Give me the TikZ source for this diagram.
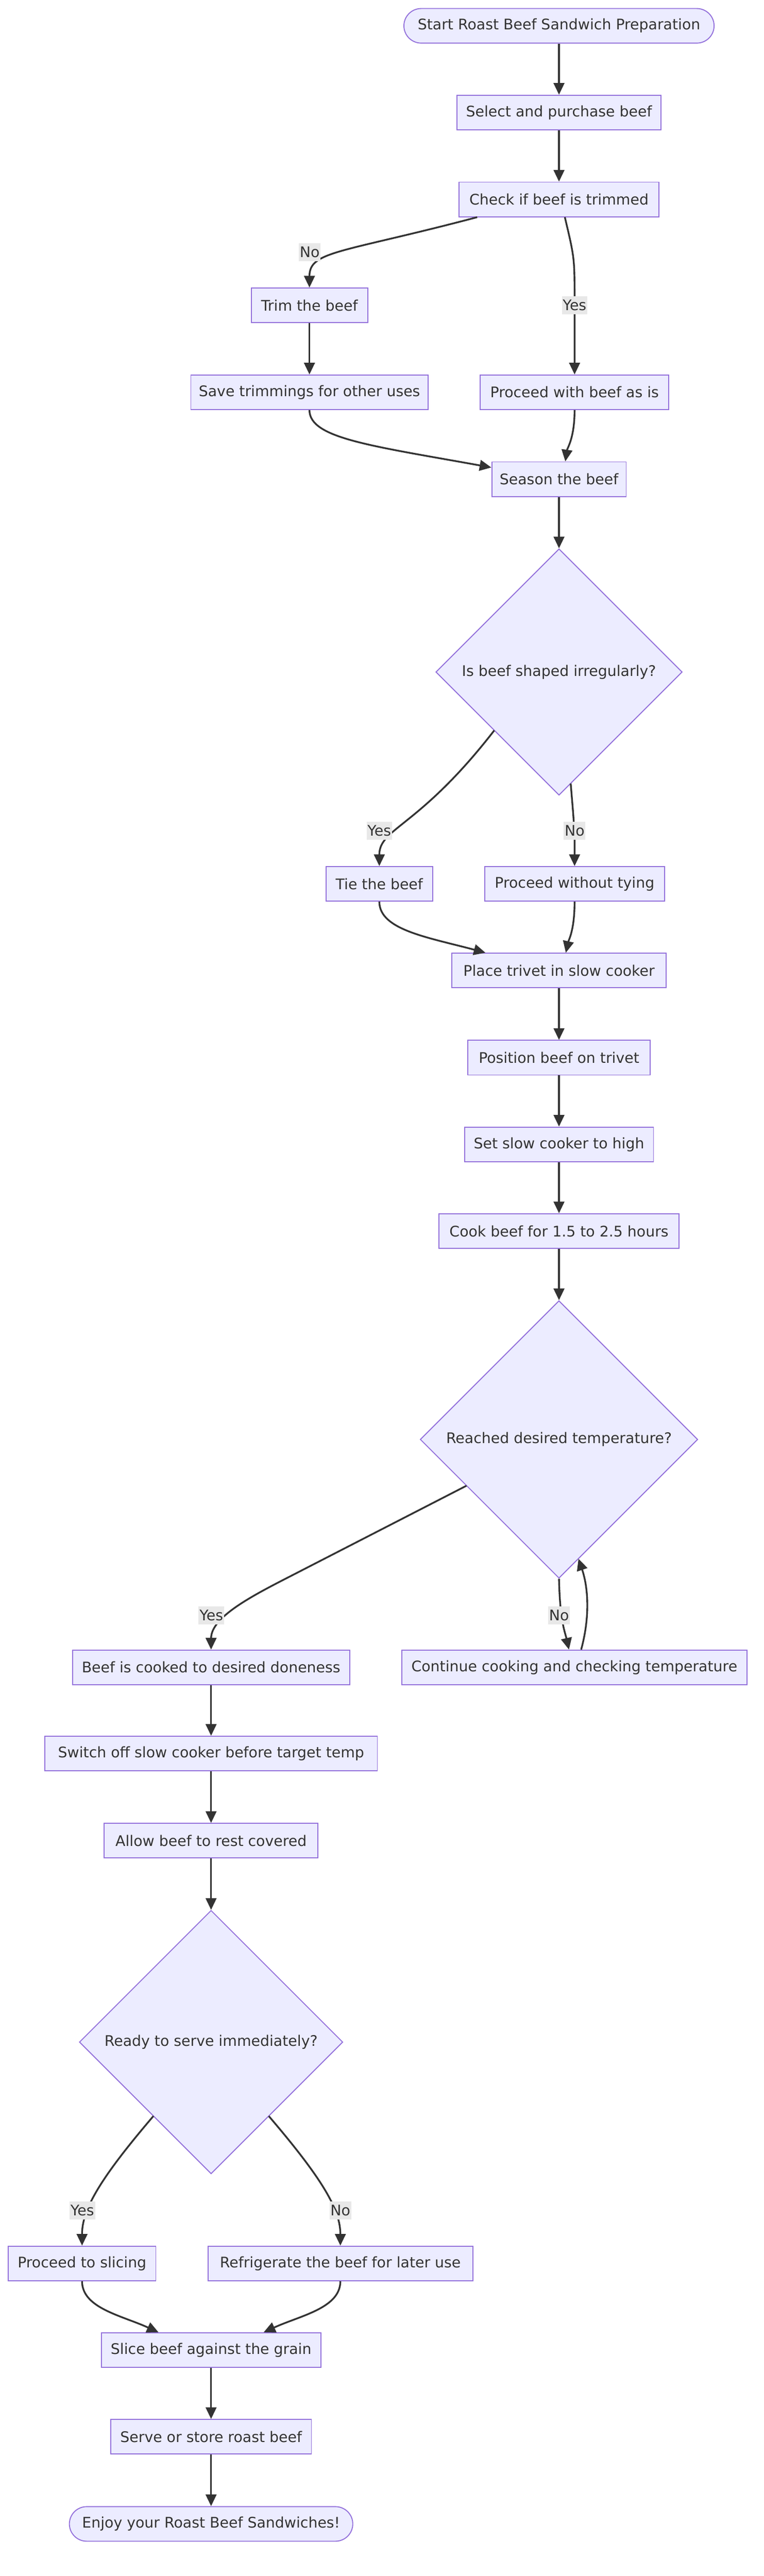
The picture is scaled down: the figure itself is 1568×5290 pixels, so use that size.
\documentclass[tikz,border=0pt]{standalone}
\usepackage{fontspec}
\setmainfont{DejaVu Sans}
\usetikzlibrary{shapes.geometric,arrows.meta,calc}
\definecolor{nfill}{HTML}{ECECFF}
\definecolor{nline}{HTML}{9370DB}
\definecolor{ink}{HTML}{333333}
\definecolor{lblbg}{HTML}{E8E8E8}
\begin{document}
\begin{tikzpicture}[x=0.5pt,y=-0.5pt,
 every node/.style={font=\fontsize{15pt}{18pt}\selectfont, text=ink},
 box/.style={draw=nline, fill=nfill, line width=1pt, minimum height=35.5pt, inner sep=0pt},
 term/.style={box, rounded corners=17.75pt},
 dec/.style={draw=nline, fill=nfill, line width=1pt, diamond, aspect=1, inner sep=0pt},
 conn/.style={draw=ink, line width=1.8pt, -{Triangle[length=12pt,width=11pt]}},
 lbl/.style={fill=lblbg, inner sep=1pt, minimum height=18.5pt}]
\fill[white] (0,0) rectangle (1568,5290);
\useasboundingbox (0,0) rectangle (1568,5290);

% nodes
\node[term, minimum width=318.5pt] (start) at (1148,53) {Start Roast Beef Sandwich Preparation};
\node[box, minimum width=209.5pt] (select) at (1148,231) {Select and purchase beef};
\node[box, minimum width=205.5pt] (check) at (1148,409.5) {Check if beef is trimmed};
\node[box, minimum width=119.5pt] (trim) at (635.5,627) {Trim the beef};
\node[box, minimum width=243.5pt] (save) at (635.5,805.5) {Save trimmings for other uses};
\node[box, minimum width=193.5pt] (pwith) at (1180,805.5) {Proceed with beef as is};
\node[box, minimum width=138pt] (season) at (1148,984) {Season the beef};
\node[dec, minimum width=253pt, minimum height=253pt] (d1) at (1148,1380) {Is beef shaped irregularly?};
\node[box, minimum width=109.5pt] (tie) at (779,1815) {Tie the beef};
\node[box, minimum width=184.5pt] (pwithout) at (1180,1815) {Proceed without tying};
\node[box, minimum width=220pt] (place) at (1148,1993) {Place trivet in slow cooker};
\node[box, minimum width=187pt] (position) at (1148,2172) {Position beef on trivet};
\node[box, minimum width=194pt] (setsc) at (1148,2350) {Set slow cooker to high};
\node[box, minimum width=246.5pt] (cook) at (1148,2528) {Cook beef for 1.5 to 2.5 hours};
\node[dec, minimum width=285pt, minimum height=285pt] (d2) at (1148,2956) {Reached desired temperature?};
\node[box, minimum width=284.5pt] (cooked) at (433.5,3424) {Beef is cooked to desired doneness};
\node[box, minimum width=354.5pt] (cont) at (1179.5,3424) {Continue cooking and checking temperature};
\node[box, minimum width=341.5pt] (switch) at (433.5,3601) {Switch off slow cooker before target temp};
\node[box, minimum width=219.5pt] (allow) at (433.5,3780) {Allow beef to rest covered};
\node[dec, minimum width=270.5pt, minimum height=270.5pt] (d3) at (433.5,4193.5) {Ready to serve immediately?};
\node[box, minimum width=151.5pt] (pslice) at (168.5,4648) {Proceed to slicing};
\node[box, minimum width=272pt] (refrig) at (699,4648) {Refrigerate the beef for later use};
\node[box, minimum width=225.5pt] (slice) at (433.5,4826) {Slice beef against the grain};
\node[box, minimum width=206pt] (serve) at (433.5,5004) {Serve or store roast beef};
\node[term, minimum width=291pt] (enjoy) at (433.5,5183) {Enjoy your Roast Beef Sandwiches!};

% connectors
\draw[conn] (start) -- (select);
\draw[conn] (select) -- (check);
\draw[conn] ($(check.south)+(-168,0)$) .. controls (700,520) and (635.5,515) .. (trim.north);
\draw[conn] ($(check.south)+(12,0)$) .. controls (1180,530) .. (1180,620) -- (pwith.north);
\draw[conn] (trim) -- (save);
\draw[conn] (save.south) .. controls (635.5,900) and (760,915) .. ($(season.west)+(0,-24)$);
\draw[conn] (pwith.south) .. controls (1180,900) and (1165,920) .. ($(season.north)+(13,0)$);
\draw[conn] (season) -- (d1);
\draw[conn] ($(d1)+(-133,120)$) .. controls (860,1700) and (779,1700) .. (tie.north);
\draw[conn] ($(d1)+(24,229)$) .. controls (1178,1680) .. (1180,1720) -- (pwithout.north);
\draw[conn] (tie.south) .. controls (779,1910) and (880,1925) .. ($(place.north)+(-151,0)$);
\draw[conn] (pwithout.south) .. controls (1180,1910) and (1168,1930) .. ($(place.north)+(14,0)$);
\draw[conn] (place) -- (position);
\draw[conn] (position) -- (setsc);
\draw[conn] (setsc) -- (cook);
\draw[conn] (cook) -- (d2);
\draw[conn] ($(d2)+(-190,95)$) -- (600,3235) .. controls (520,3276) and (433.5,3320) .. (cooked.north);
\draw[conn] (d2.south) .. controls (1150,3330) and (1160,3350) .. ($(cont.north)+(-11,0)$);
\draw[conn] ($(cont.north)+(14,0)$) .. controls (1212,3320) and (1208,3260) .. ($(d2)+(40,245)$);
\draw[conn] (cooked) -- (switch);
\draw[conn] (switch) -- (allow);
\draw[conn] (allow) -- (d3);
\draw[conn] ($(d3)+(-118.5,152)$) .. controls (200,4480) and (168.5,4540) .. (pslice.north);
\draw[conn] ($(d3)+(118.5,152)$) .. controls (667,4480) and (699,4540) .. (refrig.north);
\draw[conn] (pslice.south) .. controls (168.5,4740) and (250,4755) .. ($(slice.north)+(-108,0)$);
\draw[conn] (refrig.south) .. controls (699,4740) and (617,4755) .. ($(slice.north)+(108,0)$);
\draw[conn] (slice) -- (serve);
\draw[conn] (serve) -- (enjoy);

% edge labels
\node[lbl] (l1) at (636,518) {No};
\node[lbl] (l2) at (1180,627) {Yes};
\node[lbl] (l3) at (779,1706) {Yes};
\node[lbl] (l4) at (1180,1706) {No};
\node[lbl] (l5) at (434,3317) {Yes};
\node[lbl] (l6) at (1148,3317) {No};
\node[lbl] (l7) at (169,4539) {Yes};
\node[lbl] (l8) at (699,4539) {No};
\end{tikzpicture}
\end{document}
